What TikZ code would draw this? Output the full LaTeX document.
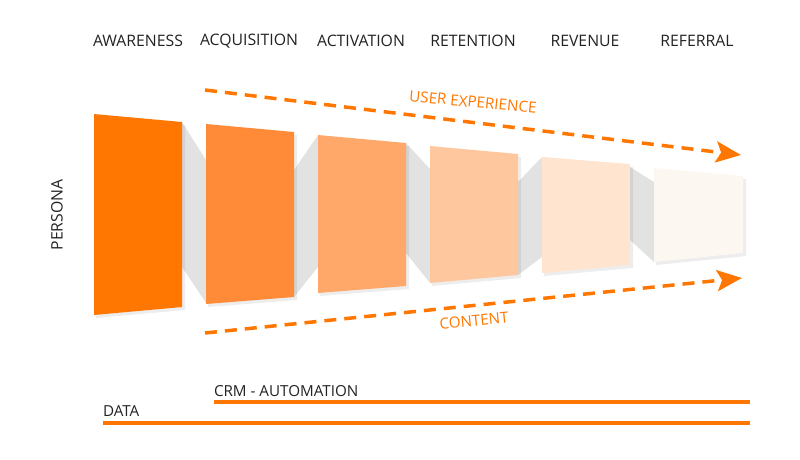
\documentclass[tikz,border=0pt]{standalone}
\usepackage{fontspec}
\setmainfont{Open Sans}
\usetikzlibrary{arrows.meta}
\definecolor{aarrorange}{HTML}{FF7700}
\definecolor{stepA}{HTML}{FF7700}
\definecolor{stepB}{HTML}{FF8A38}
\definecolor{stepC}{HTML}{FFA86A}
\definecolor{stepD}{HTML}{FFC79D}
\definecolor{stepE}{HTML}{FFE4CF}
\definecolor{stepF}{HTML}{FDF7F2}
\definecolor{foldgray}{HTML}{E2E2E2}
\definecolor{textgray}{HTML}{222222}
\begin{document}
\begin{tikzpicture}[x=1pt,y=-1pt]
\tikzset{ >=Stealth, inner sep=0pt, outer sep=0pt,
  stage/.style={font=\fontsize{15.8}{18}\selectfont, text=textgray},
  flowlabel/.style={font=\fontsize{15.2}{17}\selectfont, text=aarrorange},
  barlabel/.style={font=\fontsize{15.2}{17}\selectfont, text=textgray, anchor=west},
  flowarrow/.style={aarrorange, line width=3.5pt, dash pattern=on 12pt off 8pt,
    -{Stealth[length=25pt, width=21pt, inset=5pt]}},
  bar/.style={aarrorange, line width=4.5pt},
  shade/.style={fill=black, opacity=0.07},
}

\useasboundingbox (0,0) rectangle (800,460);

%%% Titulos

\node [stage] (aware)   at (138,41) {AWARENESS};
\node [stage] (acquis)  at (249,41) {ACQUISITION};
\node [stage] (activ)   at (361,41) {ACTIVATION};
\node [stage] (retent)  at (473,41) {RETENTION};
\node [stage] (revenue) at (585,41) {REVENUE};
\node [stage] (referr)  at (697,41) {REFERRAL};

\node [stage, rotate=90] (persona) at (57,215) {PERSONA};

%%% Dobras

\fill[foldgray] (182,122) -- (206,160) -- (206,303) -- (182,267) -- cycle;
\fill[foldgray] (294,170) -- (318,135) -- (318,267) -- (294,297) -- cycle;
\fill[foldgray] (406,143) -- (430,169) -- (430,283) -- (406,253) -- cycle;
\fill[foldgray] (518,182) -- (542,157) -- (542,257) -- (518,275) -- cycle;
\fill[foldgray] (630,167) -- (654,182) -- (654,262) -- (630,240) -- cycle;

%%% Paineis

% awareness
\fill[shade] (96,117) -- (185,125) -- (185,310) -- (96,318) -- cycle;
\fill[stepA] (94,114) -- (182,122) -- (182,307) -- (94,315) -- cycle;

% acquisition
\fill[shade] (208,127) -- (297,135) -- (297,300) -- (208,307) -- cycle;
\fill[stepB] (206,124) -- (294,132) -- (294,297) -- (206,304) -- cycle;

% activation
\fill[shade] (320,138) -- (409,146) -- (409,289) -- (320,296) -- cycle;
\fill[stepC] (318,135) -- (406,143) -- (406,286) -- (318,293) -- cycle;

% retention
\fill[shade] (432,149) -- (521,157) -- (521,278) -- (432,286) -- cycle;
\fill[stepD] (430,146) -- (518,154) -- (518,275) -- (430,283) -- cycle;

% revenue
\fill[shade] (544,160) -- (633,167) -- (633,268) -- (544,276) -- cycle;
\fill[stepE] (542,157) -- (630,164) -- (630,265) -- (542,273) -- cycle;

% referral
\fill[shade] (656,171) -- (746,179) -- (746,256) -- (656,265) -- cycle;
\fill[stepF] (654,168) -- (743,176) -- (743,253) -- (654,262) -- cycle;

%%% Setas

% user experience
\coordinate (UX0) at (205,90);
\coordinate (UX1) at (741,155);
\draw [flowarrow] (UX0) -- (UX1);
\node [flowlabel, rotate=-5.5] (uxlabel) at (473,102) {USER EXPERIENCE};

% content
\coordinate (CT0) at (205,333);
\coordinate (CT1) at (742,278);
\draw [flowarrow] (CT0) -- (CT1);
\node [flowlabel, rotate=5.5] (ctlabel) at (474,321) {CONTENT};

%%% Barras

% crm
\node [barlabel] (crm) at (214,391) {CRM - AUTOMATION};
\coordinate (CRM0) at (214,402);
\coordinate (CRM1) at (750,402);
\draw [bar] (CRM0) -- (CRM1);

% data
\node [barlabel] (data) at (103,411) {DATA};
\coordinate (DATA0) at (103,423);
\coordinate (DATA1) at (750,423);
\draw [bar] (DATA0) -- (DATA1);

\end{tikzpicture}
\end{document}
